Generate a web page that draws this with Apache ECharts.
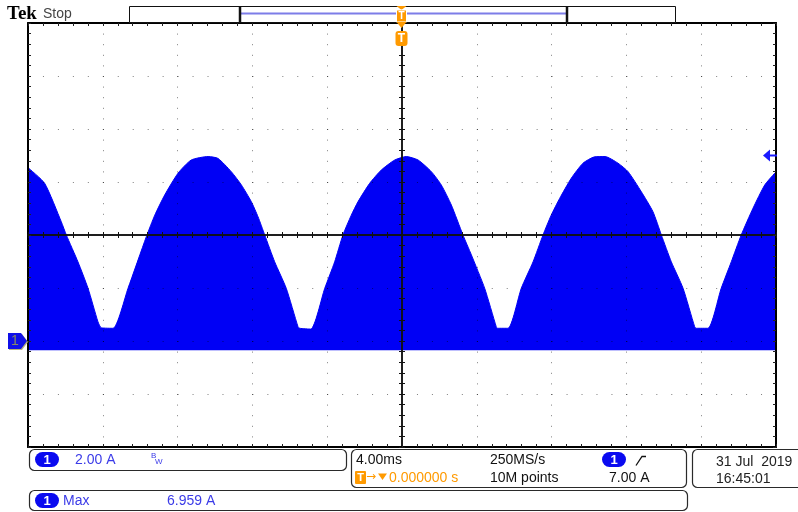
<!DOCTYPE html>
<html><head><meta charset="utf-8">
<script src="https://cdn.jsdelivr.net/npm/echarts@6/dist/echarts.min.js"></script>
<style>html,body{margin:0;padding:0;background:#fff}#c{width:798px;height:512px}</style>
</head><body><div id="c"></div>
<script>
// ---- data ----
const timeMs = [-20.0,-19.11,-18.22,-17.95,-17.33,-16.79,-16.26,-16.08,-15.45,-14.65,-13.67,-13.22,-12.69,-11.98,-11.27,-10.37,-9.84,-9.13,-8.59,-8.06,-7.70,-7.34,-6.81,-6.19,-5.56,-5.47,-4.88,-4.13,-3.60,-3.16,-2.71,-2.35,-1.73,-1.11,-0.39,0.23,0.86,1.57,2.10,2.64,3.26,3.71,4.42,5.04,5.10,5.67,6.38,7.01,7.54,7.98,8.43,9.05,9.68,10.30,10.86,11.55,12.09,12.80,13.42,13.87,14.40,15.03,15.65,15.74,16.36,17.07,17.61,18.14,18.77,19.40,19.93,20.0];
const upperA = [6.54,5.95,4.50,4.00,2.99,1.99,0.73,0.50,0.48,1.99,3.94,4.75,5.51,6.33,6.83,6.96,6.89,6.39,5.89,5.26,4.69,4.00,2.99,1.99,0.54,0.48,0.45,1.99,2.99,4.00,4.75,5.26,5.95,6.45,6.83,6.96,6.83,6.39,5.89,5.13,4.00,3.25,1.99,0.54,0.48,0.48,1.99,2.99,4.00,4.75,5.38,6.14,6.71,6.95,6.96,6.71,6.39,5.63,4.88,4.00,2.99,1.99,0.54,0.48,0.48,1.99,2.99,4.00,5.01,5.89,6.33,6.38];
const lowerEnvelopeA = -0.35;
const timeRange = [-20, 20];   // 4.00 ms/div, 10 div
const timeStep = 4;
const ampRange = [-4, 12];     // 2.00 A/div, 8 div, ground 2 div below centre
const ampStep = 2;
const groundA = 0;
const triggerLevelA = 7.0;
const triggerTimeMs = 0;
// ---- texts ----
const chName = '1';
const vScaleText = '2.00 A';
const timeScaleText = '4.00ms';
const sampleRateText = '250MS/s';
const recordText = '10M points';
const trigPosText = '0.000000 s';
const trigLevelText = '7.00 A';
const dateText = '31 Jul  2019';
const clockText = '16:45:01';
const measName = 'Max';
const measValue = '6.959 A';

const BLUE = '#0000f5';
const TXTBLUE = '#3b3be8';
const ORANGE = '#ff9a00';
const SANS = '"Liberation Sans", Arial, sans-serif';

const chart = echarts.init(document.getElementById('c'), null, {renderer: 'canvas'});
const G = {left: 28, top: 23, width: 748, height: 424};
const tickCol = '#222';
function borderX(pos) {
  return {gridIndex: 1, type: 'value', min: -5, max: 5, interval: 1, position: pos, z: 5,
    axisLine: {onZero: false, lineStyle: {color: '#000', width: 2}},
    axisTick: {show: true, inside: true, length: 3, lineStyle: {color: tickCol}},
    minorTick: {show: true, splitNumber: 5, length: 3, lineStyle: {color: tickCol}},
    axisLabel: {show: false}, splitLine: {show: false}};
}
function borderY(pos) {
  return {gridIndex: 1, type: 'value', min: -4, max: 4, interval: 1, position: pos, z: 5,
    axisLine: {onZero: false, lineStyle: {color: '#000', width: 2}},
    axisTick: {show: true, inside: true, length: 3, lineStyle: {color: tickCol}},
    minorTick: {show: true, splitNumber: 5, length: 3, lineStyle: {color: tickCol}},
    axisLabel: {show: false}, splitLine: {show: false}};
}
function centerX(inside) {
  return {gridIndex: 1, type: 'value', min: -5, max: 5, interval: 1, position: 'bottom', z: 5,
    axisLine: {onZero: true, onZeroAxisIndex: 1, lineStyle: {color: '#111', width: 1.5}},
    axisTick: {show: true, inside: inside, length: 3, lineStyle: {color: '#111'}},
    minorTick: {show: true, splitNumber: 5, length: 3, lineStyle: {color: '#111'}},
    axisLabel: {show: false}, splitLine: {show: false}};
}
function centerY(inside) {
  return {gridIndex: 1, type: 'value', min: -4, max: 4, interval: 1, position: 'left', z: 5,
    axisLine: {onZero: true, onZeroAxisIndex: 1, lineStyle: {color: '#111', width: 1.5}},
    axisTick: {show: true, inside: inside, length: 3, lineStyle: {color: '#111'}},
    minorTick: {show: true, splitNumber: 5, length: 3, lineStyle: {color: '#111'}},
    axisLabel: {show: false}, splitLine: {show: false}};
}
const xb = borderX('bottom');
xb.splitLine = {show: true, lineStyle: {type: [1, 9.6], color: 'rgba(0,0,0,0.5)', width: 1}};
const yl = borderY('left');
yl.splitLine = {show: true, lineStyle: {type: [1, 13.96], color: 'rgba(0,0,0,0.5)', width: 1}};

chart.setOption({
  animation: false,
  backgroundColor: '#fff',
  grid: [Object.assign({}, G), Object.assign({}, G)],
  xAxis: [
    {gridIndex: 0, type: 'value', min: timeRange[0], max: timeRange[1], interval: timeStep, show: false},
    xb, borderX('top'), centerX(true), centerX(false)
  ],
  yAxis: [
    {gridIndex: 0, type: 'value', min: ampRange[0], max: ampRange[1], interval: ampStep, show: false},
    yl, borderY('right'), centerY(true), centerY(false)
  ],
  series: [{
    type: 'line', xAxisIndex: 0, yAxisIndex: 0, z: 2,
    data: timeMs.map((t, i) => [t, upperA[i]]),
    symbol: 'none', showSymbol: false, smooth: 0.2,
    lineStyle: {color: BLUE, width: 1},
    areaStyle: {color: BLUE, opacity: 1, origin: lowerEnvelopeA}
  }]
});

const px = (t, a) => chart.convertToPixel({xAxisIndex: 0, yAxisIndex: 0}, [t, a]);
const gnd = px(timeRange[0], groundA);
const trg = px(timeRange[1], triggerLevelA);
const tpos = px(triggerTimeMs, 0);
const tx = Math.round(tpos[0]) - 0.5;

function txt(x, y, s, fill, font, align) {
  return {type: 'text', x: x, y: y, z: 100, style: {text: s, fill: fill, font: font || ('14px ' + SANS), verticalAlign: 'middle', align: align || 'left'}};
}
function box(x, y, w, h) {
  return {type: 'rect', z: 90, shape: {x: x, y: y, width: w, height: h, r: 5}, style: {fill: '#fff', stroke: '#2a2a2a', lineWidth: 1.2}};
}
function pill(x, y) {
  return [
    {type: 'rect', z: 100, shape: {x: x, y: y, width: 24, height: 15, r: 7.5}, style: {fill: '#0a0af0'}},
    txt(x + 12, y + 8, chName, '#fff', 'bold 13px ' + SANS, 'center')
  ];
}

const g = [];
// header
g.push(txt(7, 14, 'Tek', '#000', 'bold 19px "Liberation Serif", serif'));
g.push(txt(43, 14, 'Stop', '#444', '14px ' + SANS));
// record bar
g.push({type: 'rect', z: 90, shape: {x: 129.5, y: 6.5, width: 546, height: 16}, style: {fill: '#fff', stroke: '#111', lineWidth: 1}});
g.push({type: 'line', z: 91, shape: {x1: 241, y1: 13.5, x2: 566, y2: 13.5}, style: {stroke: '#7d7de8', lineWidth: 2}});
g.push({type: 'line', z: 92, shape: {x1: 240, y1: 6, x2: 240, y2: 23}, style: {stroke: '#111', lineWidth: 2.5}});
g.push({type: 'line', z: 92, shape: {x1: 567, y1: 6, x2: 567, y2: 23}, style: {stroke: '#111', lineWidth: 2.5}});
// trigger markers (time position)
g.push({type: 'polygon', z: 95, shape: {points: [[tx - 5, 6], [tx + 5, 6], [tx, 10]]}, style: {fill: ORANGE}});
g.push({type: 'rect', z: 95, shape: {x: tx - 5, y: 10, width: 10, height: 12}, style: {fill: ORANGE, stroke: '#fff', lineWidth: 1}});
g.push(txt(tx, 16.5, 'T', '#fff', 'bold 10px ' + SANS, 'center'));
g.push({type: 'polygon', z: 95, shape: {points: [[tx - 5, 22], [tx + 5, 22], [tx, 28]]}, style: {fill: ORANGE}});
g.push({type: 'rect', z: 95, shape: {x: tx - 6, y: 31, width: 12, height: 15, r: 3}, style: {fill: ORANGE}});
g.push(txt(tx, 39, 'T', '#fff', 'bold 12px ' + SANS, 'center'));
// trigger level arrow (right)
const ty = Math.round(trg[1]) - 0.5;
g.push({type: 'polygon', z: 95, shape: {points: [[763, ty], [770, ty - 6], [770, ty + 6]]}, style: {fill: '#1a1aff'}});
g.push({type: 'line', z: 95, shape: {x1: 769, y1: ty, x2: 777, y2: ty}, style: {stroke: '#1a1aff', lineWidth: 2}});
// ground marker (left)
const gy = Math.round(gnd[1]);
g.push({type: 'polygon', z: 94, shape: {points: [[9, gy - 7], [22, gy - 7], [28, gy + 1], [22, gy + 9], [9, gy + 9]]}, style: {fill: '#b8b27a'}});
g.push({type: 'polygon', z: 95, shape: {points: [[8, gy - 8], [21, gy - 8], [27, gy], [21, gy + 8], [8, gy + 8]]}, style: {fill: '#1010e8'}});
g.push(txt(15, gy + 0.5, chName, '#8a8a62', '14px ' + SANS, 'center'));

// bottom readouts
g.push(box(29.5, 449.5, 317, 21));
g.push(...pill(35, 452));
g.push(txt(75, 460, vScaleText, TXTBLUE));
g.push(txt(151, 456, 'B', TXTBLUE, '8px ' + SANS));
g.push(txt(155, 462, 'W', TXTBLUE, '8px ' + SANS));

g.push(box(351.5, 449.5, 335, 38));
g.push(txt(356, 460, timeScaleText, '#111'));
g.push(txt(490, 460, sampleRateText, '#111'));
g.push(...pill(602, 452));
g.push({type: 'polyline', z: 100, shape: {points: [[636, 465.5], [642, 456.5], [646, 456.5]]}, style: {stroke: '#111', lineWidth: 1.3, fill: null}});
g.push({type: 'rect', z: 100, shape: {x: 355, y: 471, width: 11, height: 13, r: 1}, style: {fill: ORANGE}});
g.push(txt(360.5, 478, 'T', '#fff', 'bold 11px ' + SANS, 'center'));
g.push(txt(366, 477, '\u2192', ORANGE, '12px "DejaVu Sans", sans-serif'));
g.push({type: 'polygon', z: 100, shape: {points: [[378, 473.5], [387, 473.5], [382.5, 480]]}, style: {fill: ORANGE}});
g.push(txt(389, 478, trigPosText, ORANGE));
g.push(txt(490, 478, recordText, '#111'));
g.push(txt(609, 478, trigLevelText, '#111'));

g.push(box(692.5, 449.5, 120, 38));
g.push(txt(716, 462, dateText, '#222'));
g.push(txt(716, 479, clockText, '#222'));

g.push(box(29.5, 490.5, 658, 20));
g.push(...pill(35, 493));
g.push(txt(63, 501.5, measName, TXTBLUE));
g.push(txt(167, 501.5, measValue, TXTBLUE));

chart.setOption({graphic: g});
</script>
</body></html>
